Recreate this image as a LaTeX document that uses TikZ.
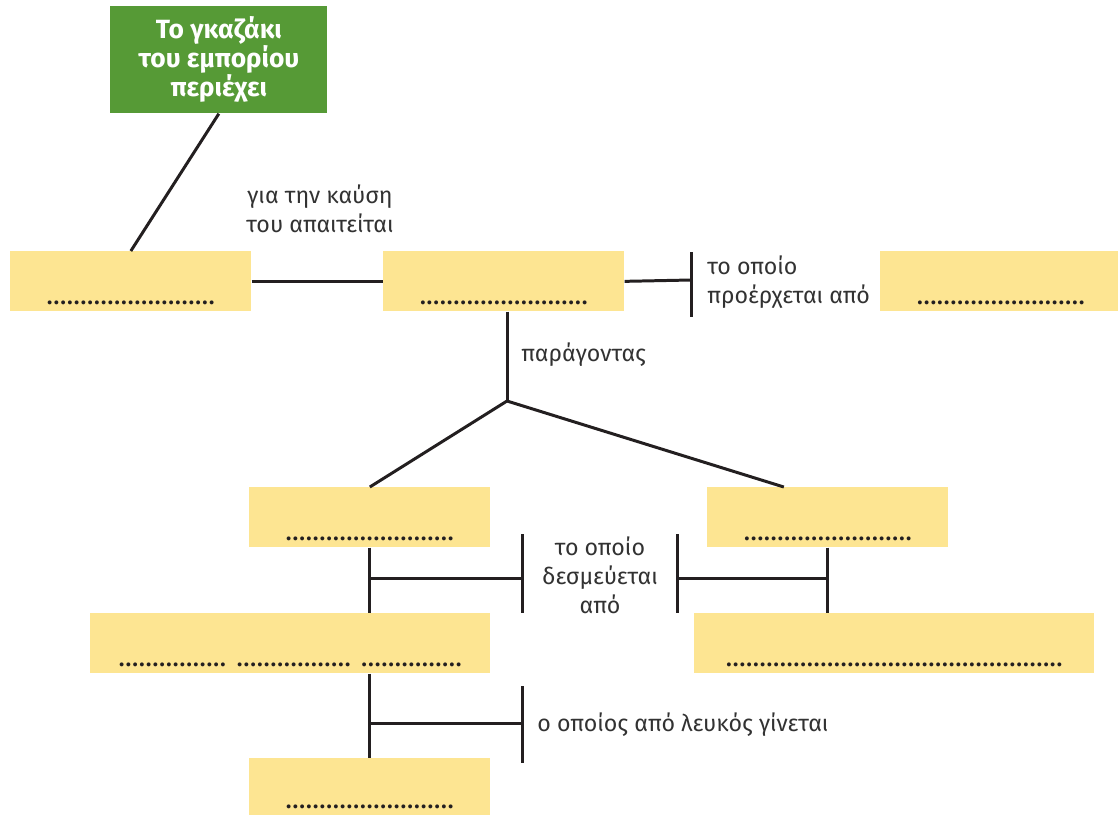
\documentclass[tikz,border=0pt]{standalone}
\usepackage{fontspec}
\setmainfont{Fira Sans}
\usepackage{xcolor}
\usetikzlibrary{positioning}
\definecolor{boxyellow}{RGB}{253,229,146}
\definecolor{leafgreen}{RGB}{86,154,54}
\definecolor{linegray}{RGB}{35,31,32}
\definecolor{txtgray}{RGB}{50,50,50}
\tikzset{
  ybox/.style  = {rectangle, fill=boxyellow, anchor=north west, inner sep=0pt,
                  minimum width=4.82cm, minimum height=1.2cm,
                  text height=0.92cm, text depth=0pt, text=linegray,
                  font=\fontsize{16}{16}\selectfont},
  widebox/.style = {ybox, minimum width=8cm},
  gbox/.style  = {rectangle, fill=leafgreen, anchor=north west, align=center,
                  minimum width=4.34cm, minimum height=2.14cm, text=white,
                  font=\fontsize{15}{16.5}\selectfont\bfseries},
  lbl/.style   = {inner sep=0pt, text=txtgray,
                  font=\fontsize{13.2}{16.5}\selectfont},
  conn/.style  = {draw=linegray, line width=1.7pt},
}

\begin{document}
\begin{tikzpicture}[x=0.02cm, y=-0.02cm]
  \useasboundingbox (0,0) rectangle (1118,815);
  % boxes
  \node[gbox] (shop) at (110,6) {Το γκαζάκι\\του εμπορίου\\περιέχει};
  \node[ybox] (gas)   at (10,251)  {.........................};
  \node[ybox] (need)  at (383,251) {.........................};
  \node[ybox] (src)   at (880,251) {.........................};
  \node[ybox] (fact1) at (249,487) {.........................};
  \node[ybox] (fact2) at (707,487) {.........................};
  \node[widebox] (bind1) at (90,613)
    {................ ................. ...............};
  \node[widebox] (bind2) at (694,613)
    {..................................................};
  \node[ybox, minimum height=1.14cm, text height=0.86cm] (final) at (249,758)
    {.........................};
  % labels
  \node[lbl, align=center] (burn) at (320,209) {για την καύση\\του απαιτείται};
  \node[lbl, align=left, anchor=west] (from) at (707,282)
    {το οποίο\\προέρχεται από};
  \node[lbl, anchor=west] (made) at (521,355) {παράγοντας};
  \node[lbl, align=center] (bound) at (600,575) {το οποίο\\δεσμεύεται\\από};
  \node[lbl, anchor=west] (turns) at (537,725) {ο οποίος από λευκός γίνεται};
  % connectors
  \coordinate (bar1) at (691,280);
  \coordinate (fork) at (507,401);
  \coordinate (bar2) at (522,578);
  \coordinate (bar3) at (677,578);
  \coordinate (bar4) at (522,723);
  \draw[conn] (shop.south) -- (gas.north);
  \draw[conn] (gas.east) -- (need.west);
  \draw[conn] (need.east) -- (bar1);
  \draw[conn] (bar1) ++(0,-28) -- ++(0,65);
  \draw[conn] (fork |- need.south) -- (fork);
  \draw[conn] (fork) -- (fact1.north);
  \draw[conn] (fork) -- ([xshift=-0.88cm]fact2.north);
  \draw[conn] (fact1.south) -- (fact1.south |- bind1.north);
  \draw[conn] (fact1.south |- bar2) -- (bar2);
  \draw[conn] (bar2) ++(0,-44) -- ++(0,79);
  \draw[conn] (fact2.south) -- (fact2.south |- bind2.north);
  \draw[conn] (fact2.south |- bar3) -- (bar3);
  \draw[conn] (bar3) ++(0,-44) -- ++(0,79);
  \draw[conn] (final.north |- bind1.south) -- (final.north);
  \draw[conn] (final.north |- bar4) -- (bar4);
  \draw[conn] (bar4) ++(0,-37) -- ++(0,77);
\end{tikzpicture}
\end{document}
